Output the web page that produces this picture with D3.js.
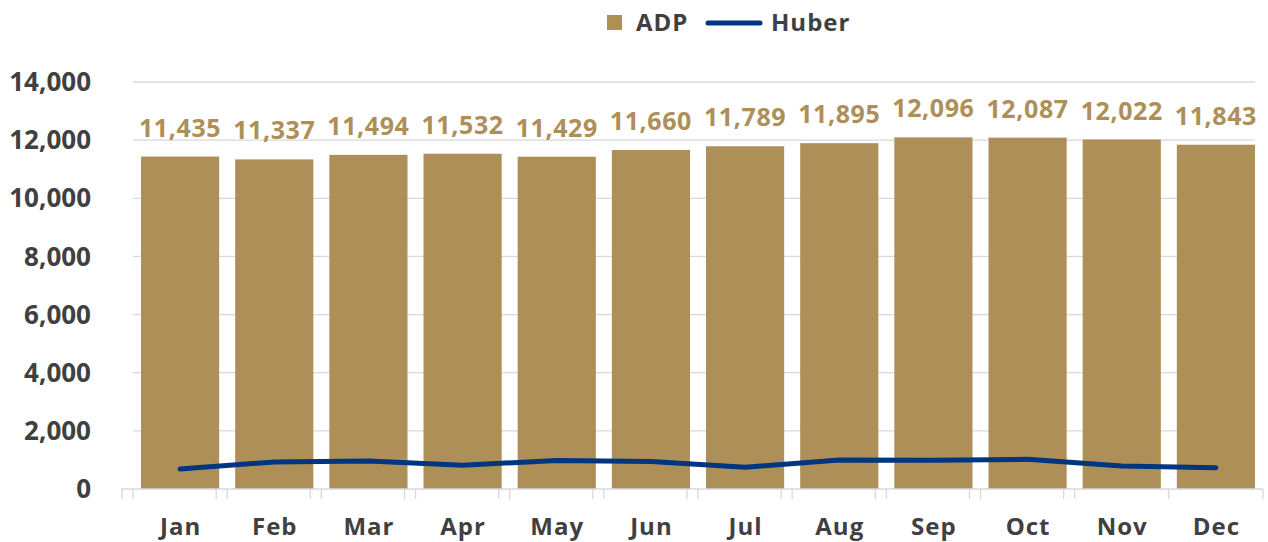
<!DOCTYPE html>
<html>
<head>
<meta charset="utf-8">
<script src="https://cdn.jsdelivr.net/npm/d3@7/dist/d3.min.js"></script>
<style>
  body { margin: 0; background: #fff; }
  text { font-family: "Open Sans", "Noto Sans", sans-serif; font-weight: bold; }
</style>
</head>
<body>
<div id="chart"></div>
<script>
var months = ["Jan", "Feb", "Mar", "Apr", "May", "Jun", "Jul", "Aug", "Sep", "Oct", "Nov", "Dec"];
var adp = [11435, 11337, 11494, 11532, 11429, 11660, 11789, 11895, 12096, 12087, 12022, 11843];
var huber = [690, 930, 960, 820, 980, 950, 750, 1000, 990, 1020, 790, 730];
var yTicks = [0, 2000, 4000, 6000, 8000, 10000, 12000, 14000];

var svgWidth = 1268;
var svgHeight = 542;

var svg = d3.select("#chart")
  .append("svg")
  .attr("width", svgWidth)
  .attr("height", svgHeight);

var x = d3.scaleBand()
  .domain(months)
  .range([133, 1263])
  .paddingInner(0.17)
  .paddingOuter(0.085);

var y = d3.scaleLinear()
  .domain([0, 14000])
  .range([489, 82]);

var fmt = d3.format(",");

// gridlines
svg.append("g")
  .selectAll("line")
  .data(yTicks.slice(1))
  .enter()
  .append("line")
  .attr("x1", 133)
  .attr("x2", 1255)
  .attr("y1", d => y(d))
  .attr("y2", d => y(d))
  .attr("stroke", "#d9d9d9")
  .attr("stroke-width", 1.3);

// y labels
svg.append("g")
  .selectAll("text")
  .data(yTicks)
  .enter()
  .append("text")
  .attr("x", 91)
  .attr("y", d => y(d))
  .attr("dy", "0.35em")
  .attr("text-anchor", "end")
  .attr("font-size", "26px")
  .attr("fill", "#404040")
  .text(d => fmt(d));

// bars
svg.append("g")
  .selectAll("rect")
  .data(adp)
  .enter()
  .append("rect")
  .attr("x", (d, i) => x(months[i]))
  .attr("y", d => y(d))
  .attr("width", x.bandwidth())
  .attr("height", d => y(0) - y(d))
  .attr("fill", "#ad8f57");

// x axis
var xAxis = svg.append("g")
  .attr("transform", "translate(0, 489)");
xAxis.append("line")
  .attr("x1", 121).attr("x2", 1263)
  .attr("y1", 0).attr("y2", 0)
  .attr("stroke", "#d9d9d9").attr("stroke-width", 1.3);
var bounds = months.map(m => x(m) - x.step() * x.paddingInner() / 2);
bounds.push(1263);
xAxis.selectAll(".tk")
  .data(bounds)
  .enter()
  .append("line")
  .attr("x1", d => d).attr("x2", d => d)
  .attr("y1", 0).attr("y2", 10)
  .attr("stroke", "#d9d9d9").attr("stroke-width", 1.3);
xAxis.selectAll(".tk2")
  .data(bounds.slice(0, 11).map(d => d - 11))
  .enter()
  .append("line")
  .attr("x1", d => d).attr("x2", d => d)
  .attr("y1", 0).attr("y2", 10)
  .attr("stroke", "#d9d9d9").attr("stroke-width", 1.3);

svg.append("g")
  .selectAll("text")
  .data(months)
  .enter()
  .append("text")
  .attr("x", d => x(d) + x.bandwidth() / 2 + 0.5)
  .attr("y", 535)
  .attr("text-anchor", "middle")
  .attr("font-size", "24px")
  .attr("letter-spacing", "1px")
  .attr("fill", "#404040")
  .text(d => d);

// value labels
svg.append("g")
  .selectAll("text")
  .data(adp)
  .enter()
  .append("text")
  .attr("x", (d, i) => x(months[i]) + x.bandwidth() / 2)
  .attr("y", d => y(d) - 20)
  .attr("text-anchor", "middle")
  .attr("font-size", "25px")
  .attr("letter-spacing", "0.6px")
  .attr("fill", "#ad8f57")
  .text(d => fmt(d));

// huber line
var line = d3.line()
  .x((d, i) => x(months[i]) + x.bandwidth() / 2)
  .y(d => y(d));

svg.append("path")
  .datum(huber)
  .attr("d", line)
  .attr("fill", "none")
  .attr("stroke", "#003580")
  .attr("stroke-width", 5)
  .attr("stroke-linecap", "round")
  .attr("stroke-linejoin", "round");

// legend
var legend = svg.append("g");
legend.append("rect")
  .attr("x", 607).attr("y", 15)
  .attr("width", 15).attr("height", 15)
  .attr("fill", "#ad8f57");
legend.append("text")
  .attr("x", 636).attr("y", 31)
  .attr("font-size", "24px")
  .attr("letter-spacing", "1px")
  .attr("fill", "#404040")
  .text("ADP");
legend.append("line")
  .attr("x1", 708).attr("x2", 760)
  .attr("y1", 23).attr("y2", 23)
  .attr("stroke", "#003580")
  .attr("stroke-width", 5)
  .attr("stroke-linecap", "round");
legend.append("text")
  .attr("x", 771).attr("y", 31)
  .attr("font-size", "24px")
  .attr("letter-spacing", "1px")
  .attr("fill", "#404040")
  .text("Huber");
</script>
</body>
</html>
